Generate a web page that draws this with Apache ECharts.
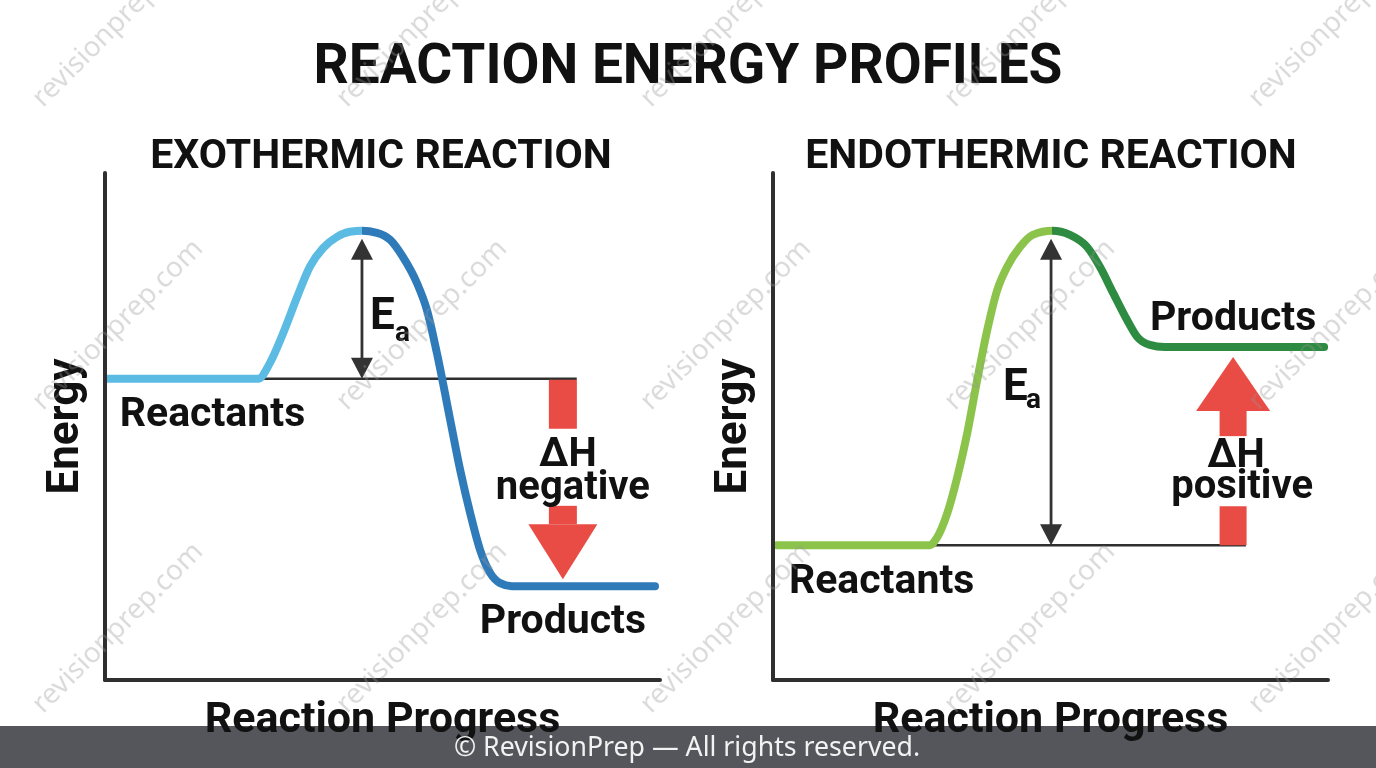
<!DOCTYPE html>
<html><head><meta charset="utf-8">
<script src="https://cdn.jsdelivr.net/npm/echarts@6/dist/echarts.min.js"></script>
<style>html,body{margin:0;padding:0;background:#fff}#c{width:1376px;height:768px}</style>
</head><body><div id="c"></div>
<script>
const pageTitle = 'REACTION ENERGY PROFILES';
const panelTitles = ['EXOTHERMIC REACTION', 'ENDOTHERMIC REACTION'];
const axisNames = ['Reaction Progress', 'Energy'];
const footerText = '© RevisionPrep — All rights reserved.';
const watermarkText = 'revisionprep.com';

// [reaction progress, energy] in arbitrary units (0–100)
const exoCurve = [[0.5,59.4],[22.5,59.4],[27.6,59.4],[29.7,62.5],[32.1,68.4],[34.6,75.5],[36.9,81.5],[39.3,85.2],[41.8,87.4],[44.1,88.4],[46.3,88.6],[49.0,88.2],[51.4,86.8],[53.7,83.4],[56.2,78.3],[58.0,73.0],[59.8,64.5],[62.2,51.3],[64.0,41.4],[65.8,32.9],[67.6,25.6],[69.4,21.1],[71.2,19.1],[73.3,18.5],[99.1,18.5]];
const endoCurve = [[0.7,26.6],[22.9,26.6],[28.3,26.6],[29.5,28.0],[31.4,32.9],[33.2,40.0],[35.0,48.7],[36.8,59.2],[38.6,69.0],[40.4,76.9],[42.2,81.5],[44.5,85.4],[46.8,87.8],[50.3,88.6],[53.5,87.8],[56.6,85.4],[58.9,81.5],[61.3,76.3],[63.8,71.0],[65.6,67.7],[67.9,66.1],[70.5,65.7],[99.3,65.7]];
// energy levels: [reactants, transition state, products]
const exoLevels = [59.4, 88.6, 18.5];
const endoLevels = [26.6, 88.6, 65.7];
// progress positions: [Ea arrow, ΔH arrow, reactant line start, reactant line end]
const exoMarks = [46.3, 82.5, 27.6, 85.0];
const endoMarks = [50.1, 82.9, 28.3, 85.2];
const exoLabels = ['Reactants', 'Products', 'ΔH', 'negative', 'E', 'a'];
const endoLabels = ['Reactants', 'Products', 'ΔH', 'positive', 'E', 'a'];

const FONT = 'Roboto, "Liberation Sans", sans-serif';
const INK = '#111111';
const AX = '#2f2f2f';
const RED = '#e94b45';
const exoColors = ['#5bbbe3', '#2f7bba'];
const endoColors = ['#8cc44b', '#2e8b42'];
const TY = 3; // text baseline nudge

const exoLayout = {
  eaTopInset: 8, ea: {E: [8, 10.5], a: [33, 26]},
  dh: {start: 1, gapA: 49, gapB: 126, tipInset: 7, headLen: 55, barHW: 14, headHW: 34.5,
       t1: [5, 73], t2: [10, 106]},
  reactLbl: [12, 34], prodLbl: [0, 34]
};
const endoLayout = {
  eaTopInset: 8, ea: {E: [-48, -2], a: [-25, 10.5]},
  dh: {start: 0, gapA: 39, gapB: 109, tipInset: 10, headLen: 54, barHW: 13.5, headHW: 37,
       t1: [3, 91], t2: [9, 60]},
  reactLbl: [12, 35], prodLbl: [0, -30]
};

function peakX(curve) {
  return curve.reduce((m, p) => (p[1] > m[1] ? p : m), curve[0])[0];
}

// monotone cubic (in x) path through pixel points
function monotonePath(pts) {
  const n = pts.length, h = [], s = [], t = new Array(n).fill(0);
  for (let i = 0; i < n - 1; i++) {
    h[i] = pts[i + 1][0] - pts[i][0];
    s[i] = (pts[i + 1][1] - pts[i][1]) / h[i];
  }
  for (let i = 1; i < n - 1; i++) {
    const s0 = s[i - 1], s1 = s[i];
    if (s0 * s1 <= 0) { t[i] = 0; continue; }
    const p = (s0 * h[i] + s1 * h[i - 1]) / (h[i - 1] + h[i]);
    t[i] = (Math.sign(s0) + Math.sign(s1)) * Math.min(Math.abs(s0), Math.abs(s1), 0.5 * Math.abs(p));
  }
  t[0] = s[0] === 0 ? 0 : (3 * s[0] - t[1]) / 2;
  t[n - 1] = s[n - 2] === 0 ? 0 : (3 * s[n - 2] - t[n - 2]) / 2;
  let d = 'M' + pts[0][0] + ' ' + pts[0][1];
  for (let i = 0; i < n - 1; i++) {
    const dx = h[i] / 3;
    d += ' C' + (pts[i][0] + dx) + ' ' + (pts[i][1] + t[i] * dx) + ' ' +
         (pts[i + 1][0] - dx) + ' ' + (pts[i + 1][1] - t[i + 1] * dx) + ' ' +
         pts[i + 1][0] + ' ' + pts[i + 1][1];
  }
  return d;
}

function curveRenderer(curve, colors) {
  return function (params, api) {
    if (params.dataIndex !== 0) return null;
    const pts = curve.map(p => api.coord(p));
    const a = pts[0][0], b = pts[pts.length - 1][0];
    const pk = api.coord([peakX(curve), 0])[0];
    const tt = (pk - a) / (b - a);
    const grad = new echarts.graphic.LinearGradient(a, 0, b, 0, [
      {offset: 0, color: colors[0]}, {offset: tt, color: colors[0]},
      {offset: tt, color: colors[1]}, {offset: 1, color: colors[1]}], true);
    return {type: 'path', shape: {pathData: monotonePath(pts)},
      style: {fill: 'none', stroke: grad, lineWidth: 8, lineCap: 'round', lineJoin: 'round'}};
  };
}

function txt(x, y, text, size, align) {
  return {type: 'text', x: x, y: y + TY, z: 20, silent: true,
    style: {text: text, fontSize: size, fontWeight: 'bold', fontFamily: FONT, fill: INK,
            align: align || 'center', verticalAlign: 'middle'}};
}

const chart = echarts.init(document.getElementById('c'), null, {renderer: 'canvas'});

function makeAnno(gi, curve, levels, marks, labels, L) {
  const c = p => chart.convertToPixel({gridIndex: gi}, p);
  const ch = [];
  const r0 = c([marks[2], levels[0]]), r1 = c([marks[3], levels[0]]);
  ch.push({type: 'line', z: 1, silent: true, shape: {x1: r0[0], y1: r0[1], x2: r1[0], y2: r1[1]},
           style: {stroke: AX, lineWidth: 2.5}});
  // Ea double arrow
  const e0 = c([marks[0], levels[0]]), e1 = c([marks[0], levels[1]]);
  const ex = e0[0], bot = e0[1], top = e1[1] + L.eaTopInset;
  const hw = 11, hl = 21;
  ch.push({type: 'line', z: 5, silent: true, shape: {x1: ex, y1: top + hl - 2, x2: ex, y2: bot - hl + 2},
           style: {stroke: '#333', lineWidth: 2.8}});
  ch.push({type: 'polygon', z: 5, silent: true, shape: {points: [[ex, top], [ex - hw, top + hl], [ex + hw, top + hl]]},
           style: {fill: '#333'}});
  ch.push({type: 'polygon', z: 5, silent: true, shape: {points: [[ex, bot], [ex - hw, bot - hl], [ex + hw, bot - hl]]},
           style: {fill: '#333'}});
  const mid = (bot + e1[1]) / 2;
  ch.push(txt(ex + L.ea.E[0], mid + L.ea.E[1], labels[4], 44, 'left'));
  ch.push(txt(ex + L.ea.a[0], mid + L.ea.a[1], labels[5], 28, 'left'));
  // ΔH block arrow
  const d0 = c([marks[1], levels[0]]), d1 = c([marks[1], levels[2]]);
  const D = L.dh, dx = d0[0], s = d1[1] > d0[1] ? 1 : -1;
  const st = d0[1] + s * D.start, tip = d1[1] - s * D.tipInset, base = tip - s * D.headLen;
  const ya = st + s * D.gapA, yb = st + s * D.gapB;
  ch.push({type: 'rect', z: 5, silent: true, shape: {x: dx - D.barHW, y: Math.min(st, ya), width: 2 * D.barHW, height: Math.abs(ya - st)},
           style: {fill: RED}});
  ch.push({type: 'rect', z: 5, silent: true, shape: {x: dx - D.barHW, y: Math.min(yb, base), width: 2 * D.barHW, height: Math.abs(base - yb)},
           style: {fill: RED}});
  ch.push({type: 'polygon', z: 5, silent: true, shape: {points: [[dx - D.headHW, base], [dx + D.headHW, base], [dx, tip]]},
           style: {fill: RED}});
  ch.push(txt(dx + D.t1[0], st + s * D.t1[1], labels[2], 40));
  ch.push(txt(dx + D.t2[0], st + s * D.t2[1], labels[3], 40));
  // level labels
  const cs = c(curve[0]);
  ch.push(txt(cs[0] + L.reactLbl[0], cs[1] + L.reactLbl[1], labels[0], 41, 'left'));
  ch.push(txt(d1[0] + L.prodLbl[0], d1[1] + L.prodLbl[1], labels[1], 41));
  return ch;
}

function axisPair(i) {
  const common = {min: 0, max: 100, gridIndex: i, axisTick: {show: false}, axisLabel: {show: false},
    splitLine: {show: false}, axisLine: {show: true, onZero: false, lineStyle: {color: AX, width: 4}},
    nameLocation: 'middle', z: 10};
  return {
    x: Object.assign({type: 'value', name: axisNames[0], nameGap: 20,
      nameTextStyle: {fontSize: 43, fontWeight: 'bold', color: INK, fontFamily: FONT}}, common),
    y: Object.assign({type: 'value', name: axisNames[1], nameGap: 16, nameRotate: 90,
      nameTextStyle: {fontSize: 44, fontWeight: 'bold', color: INK, fontFamily: FONT}}, common)
  };
}
const a0 = axisPair(0), a1 = axisPair(1);

const graphics = [];
graphics.push({type: 'text', x: 688, y: 69, z: 20,
  style: {text: pageTitle, fontSize: 55, fontWeight: 'bold', fontFamily: FONT, fill: INK, align: 'center', verticalAlign: 'middle'}});
graphics.push({type: 'text', x: 381, y: 158, z: 20,
  style: {text: panelTitles[0], fontSize: 41, fontWeight: 'bold', fontFamily: FONT, fill: INK, align: 'center', verticalAlign: 'middle'}});
graphics.push({type: 'text', x: 1051, y: 158, z: 20,
  style: {text: panelTitles[1], fontSize: 41, fontWeight: 'bold', fontFamily: FONT, fill: INK, align: 'center', verticalAlign: 'middle'}});
graphics.push({type: 'rect', z: 0, shape: {x: 0, y: 726, width: 1376, height: 42}, style: {fill: '#55565b'}});
graphics.push({type: 'text', x: 687, y: 748, z: 30,
  style: {text: footerText, fontSize: 26.7, fontFamily: '"Noto Sans", "Open Sans", sans-serif', fill: '#f2f2f2', align: 'center', verticalAlign: 'middle'}});
for (let r = 0; r < 3; r++) {
  for (let k = 0; k < 5; k++) {
    graphics.push({type: 'text', x: 118 + k * 304, y: 22 + r * 303, rotation: Math.PI / 4, z: 25, silent: true,
      style: {text: watermarkText, fontSize: 28, fontFamily: '"Noto Sans", "Open Sans", sans-serif',
              fill: 'rgba(150,150,150,0.34)', align: 'center', verticalAlign: 'middle'}});
  }
}

chart.setOption({
  animation: false,
  backgroundColor: '#ffffff',
  textStyle: {fontFamily: FONT},
  grid: [
    {left: 105, top: 173, width: 555, height: 507, outerBoundsMode: 'none', containLabel: false},
    {left: 773, top: 173, width: 555, height: 507, outerBoundsMode: 'none', containLabel: false}
  ],
  xAxis: [a0.x, a1.x],
  yAxis: [a0.y, a1.y],
  series: [
    {type: 'custom', name: 'Exothermic', xAxisIndex: 0, yAxisIndex: 0, data: exoCurve, silent: true,
     clip: false, z: 3, renderItem: curveRenderer(exoCurve, exoColors)},
    {type: 'custom', name: 'Endothermic', xAxisIndex: 1, yAxisIndex: 1, data: endoCurve, silent: true,
     clip: false, z: 3, renderItem: curveRenderer(endoCurve, endoColors)}
  ]
});

const anno = makeAnno(0, exoCurve, exoLevels, exoMarks, exoLabels, exoLayout)
  .concat(makeAnno(1, endoCurve, endoLevels, endoMarks, endoLabels, endoLayout));

chart.setOption({graphic: {elements: anno.concat(graphics)}});
</script>
</body></html>
